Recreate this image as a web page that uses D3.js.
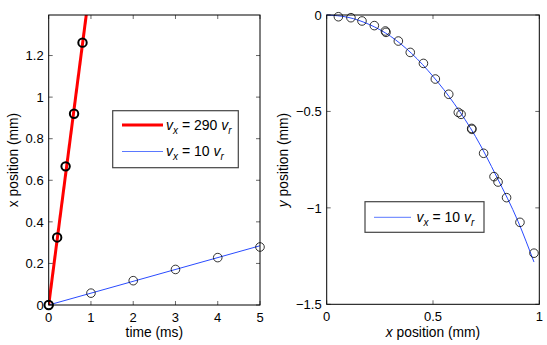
<!DOCTYPE html>
<html>
<head>
<meta charset="utf-8">
<script src="https://cdn.jsdelivr.net/npm/d3@7"></script>
<style>
  body { margin: 0; background: #fff; }
  svg text { font-family: "Liberation Sans", Arial, sans-serif; fill: #000; }
</style>
</head>
<body>
<svg id="chart" width="547" height="345"></svg>
<script>
// left panel: x position vs time
var fastT = [0, 0.2, 0.4, 0.6, 0.8];
var fastX = [0, 0.325, 0.667, 0.92, 1.262];
var fastLineT = [0, 1];
var fastLineX = [0, 1.57];
var slowT = [0, 1, 2, 3, 4, 5];
var slowX = [0, 0.057, 0.117, 0.171, 0.228, 0.279];
var slowLineT = [0, 5];
var slowLineX = [0, 0.285];
var leftXTicks = [0, 1, 2, 3, 4, 5];
var leftYTicks = [0, 0.2, 0.4, 0.6, 0.8, 1, 1.2];

// right panel: y position vs x position
var trajX = [0.055, 0.114, 0.166, 0.224, 0.276, 0.279, 0.337, 0.393, 0.455, 0.511, 0.574, 0.619, 0.632, 0.682, 0.683, 0.738, 0.787, 0.806, 0.846, 0.909, 0.975];
var trajY = [-0.009, -0.014, -0.031, -0.055, -0.083, -0.090, -0.135, -0.194, -0.251, -0.332, -0.411, -0.505, -0.515, -0.588, -0.593, -0.717, -0.838, -0.866, -0.947, -1.075, -1.235];
var curveX = [0, 0.1, 0.2, 0.3, 0.4, 0.5, 0.6, 0.7, 0.8, 0.9, 0.975];
var curveY = [0, -0.012, -0.049, -0.11, -0.2, -0.318, -0.46, -0.63, -0.84, -1.07, -1.281];
var rightXTicks = [0, 0.5, 1];
var rightYTicks = [0, -0.5, -1, -1.5];

var svg = d3.select("#chart");
var tickSize = 13;
var labelSize = 13.8;

function zip(a, b) { return a.map(function(v, i) { return [v, b[i]]; }); }

function drawAxes(g, x, y, xTicks, yTicks, xFmt, yFmt) {
  var x0 = x.range()[0], x1 = x.range()[1];
  var y0 = y.range()[0], y1 = y.range()[1];
  var tl = 4;
  // ticks inward on all four sides
  xTicks.forEach(function(t) {
    g.append("line").attr("x1", x(t)).attr("x2", x(t)).attr("y1", y0).attr("y2", y0 - tl)
      .attr("stroke", "#000").attr("stroke-width", 0.6);
    g.append("line").attr("x1", x(t)).attr("x2", x(t)).attr("y1", y1).attr("y2", y1 + tl)
      .attr("stroke", "#000").attr("stroke-width", 0.6);
    g.append("text").attr("x", x(t)).attr("y", y0 + 16.5)
      .attr("text-anchor", "middle").attr("font-size", tickSize).text(xFmt(t));
  });
  yTicks.forEach(function(t) {
    g.append("line").attr("x1", x0).attr("x2", x0 + tl).attr("y1", y(t)).attr("y2", y(t))
      .attr("stroke", "#000").attr("stroke-width", 0.6);
    g.append("line").attr("x1", x1).attr("x2", x1 - tl).attr("y1", y(t)).attr("y2", y(t))
      .attr("stroke", "#000").attr("stroke-width", 0.6);
    g.append("text").attr("x", x0 - 5).attr("y", y(t) + 4.7)
      .attr("text-anchor", "end").attr("font-size", tickSize).text(yFmt(t));
  });
  g.append("rect").attr("x", x0).attr("y", y1).attr("width", x1 - x0).attr("height", y0 - y1)
    .attr("fill", "none").attr("stroke", "#000").attr("stroke-width", 1);
}

var minusFmt = function(t) { return String(t).replace("-", "\u2212"); };

// ---------- left panel ----------
var xL = d3.scaleLinear().domain([0, 5]).range([48.7, 260]);
var yL = d3.scaleLinear().domain([0, 1.395]).range([305, 15]);
var gL = svg.append("g");

svg.append("clipPath").attr("id", "clipL").append("rect")
  .attr("x", 48.7).attr("y", 15).attr("width", 260 - 48.7).attr("height", 290);

var lineL = d3.line().x(function(d) { return xL(d[0]); }).y(function(d) { return yL(d[1]); });

gL.append("path").datum(zip(slowLineT, slowLineX)).attr("d", lineL)
  .attr("fill", "none").attr("stroke", "#2a4bff").attr("stroke-width", 1)
  .attr("clip-path", "url(#clipL)");
gL.append("path").datum(zip(fastLineT, fastLineX)).attr("d", lineL)
  .attr("fill", "none").attr("stroke", "#ff0000").attr("stroke-width", 3)
  .attr("clip-path", "url(#clipL)");

gL.selectAll(".slowpt").data(zip(slowT, slowX)).enter().append("circle")
  .attr("cx", function(d) { return xL(d[0]); }).attr("cy", function(d) { return yL(d[1]); })
  .attr("r", 4.3).attr("fill", "none").attr("stroke", "#000").attr("stroke-width", 0.8);
gL.selectAll(".fastpt").data(zip(fastT, fastX)).enter().append("circle")
  .attr("cx", function(d) { return xL(d[0]); }).attr("cy", function(d) { return yL(d[1]); })
  .attr("r", 4.2).attr("fill", "none").attr("stroke", "#000").attr("stroke-width", 2);

drawAxes(gL, xL, yL, leftXTicks, leftYTicks, String, String);

gL.append("text").attr("x", xL(2.5)).attr("y", 336.5).attr("text-anchor", "middle")
  .attr("font-size", labelSize).text("time (ms)");
gL.append("text").attr("transform", "translate(17.5,160) rotate(-90)").attr("text-anchor", "middle")
  .attr("font-size", labelSize).text("x position (mm)");

// legend text with italic v and subscripts
function legendLabel(g, x, y, num) {
  var t = g.append("text").attr("x", x).attr("y", y).attr("font-size", 14);
  t.append("tspan").attr("font-style", "italic").text("v");
  t.append("tspan").attr("font-style", "italic").attr("font-size", 10).attr("dy", 4).text("x");
  t.append("tspan").attr("dy", -4).text(" = " + num + " ");
  t.append("tspan").attr("font-style", "italic").text("v");
  t.append("tspan").attr("font-style", "italic").attr("font-size", 10).attr("dy", 4).text("r");
}

var legL = gL.append("g");
legL.append("rect").attr("x", 112.7).attr("y", 110.7).attr("width", 125.6).attr("height", 57)
  .attr("fill", "#fff").attr("stroke", "#444").attr("stroke-width", 1.2);
legL.append("line").attr("x1", 122).attr("x2", 163).attr("y1", 125).attr("y2", 125)
  .attr("stroke", "#ff0000").attr("stroke-width", 3);
legL.append("line").attr("x1", 122).attr("x2", 163).attr("y1", 151.5).attr("y2", 151.5)
  .attr("stroke", "#5a78ff").attr("stroke-width", 1);
legendLabel(legL, 166, 129.5, "290");
legendLabel(legL, 166, 156, "10");

// ---------- right panel ----------
var xR = d3.scaleLinear().domain([0, 1]).range([326.7, 539.3]);
var yR = d3.scaleLinear().domain([-1.5, 0]).range([304.3, 15]);
var gR = svg.append("g");

var lineR = d3.line().curve(d3.curveMonotoneX)
  .x(function(d) { return xR(d[0]); }).y(function(d) { return yR(d[1]); });

gR.append("path").datum(zip(curveX, curveY)).attr("d", lineR)
  .attr("fill", "none").attr("stroke", "#2a4bff").attr("stroke-width", 1);

gR.selectAll(".trajpt").data(zip(trajX, trajY)).enter().append("circle")
  .attr("cx", function(d) { return xR(d[0]); }).attr("cy", function(d) { return yR(d[1]); })
  .attr("r", 4.3).attr("fill", "none").attr("stroke", "#000").attr("stroke-width", 0.8);

drawAxes(gR, xR, yR, rightXTicks, rightYTicks, String, minusFmt);

var xlab = gR.append("text").attr("x", xR(0.5)).attr("y", 336.5).attr("text-anchor", "middle")
  .attr("font-size", labelSize);
xlab.append("tspan").attr("font-style", "italic").text("x");
xlab.append("tspan").text(" position (mm)");
var ylab = gR.append("text").attr("transform", "translate(287.5,160) rotate(-90)")
  .attr("text-anchor", "middle").attr("font-size", labelSize);
ylab.append("tspan").attr("font-style", "italic").text("y");
ylab.append("tspan").text(" position (mm)");

var legR = gR.append("g");
legR.append("rect").attr("x", 365).attr("y", 201.7).attr("width", 119).attr("height", 30.6)
  .attr("fill", "#fff").attr("stroke", "#444").attr("stroke-width", 1.2);
legR.append("line").attr("x1", 374).attr("x2", 411).attr("y1", 217.3).attr("y2", 217.3)
  .attr("stroke", "#5a78ff").attr("stroke-width", 1);
legendLabel(legR, 416.5, 221.5, "10");
</script>
</body>
</html>
